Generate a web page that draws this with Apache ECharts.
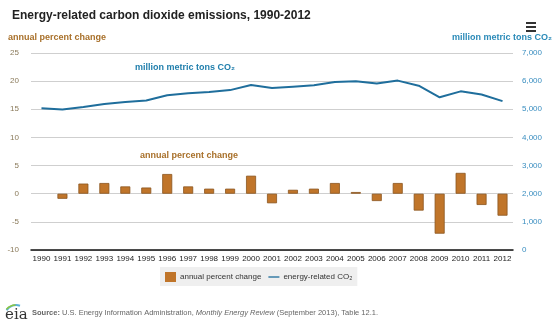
<!DOCTYPE html>
<html><head><meta charset="utf-8">
<script src="https://cdn.jsdelivr.net/npm/echarts@6/dist/echarts.min.js"></script>
<style>html,body{margin:0;padding:0;background:#fff}#c{width:558px;height:326px}</style>
</head><body><div id="c"></div>
<script>
var years = ['1990','1991','1992','1993','1994','1995','1996','1997','1998','1999','2000','2001','2002','2003','2004','2005','2006','2007','2008','2009','2010','2011','2012'];
var pctChange = [null,-0.9,1.8,1.9,1.3,1.1,3.5,1.3,0.9,0.9,3.2,-1.7,0.7,0.9,1.9,0.3,-1.3,1.9,-3.0,-7.1,3.7,-2.0,-3.9];
var co2 = [5039,4995,5083,5185,5258,5314,5502,5568,5615,5681,5860,5753,5803,5853,5970,5999,5920,6019,5838,5425,5637,5523,5290];
var leftTicks = [-10,25,5];
var rightTicks = [0,7000,1000];

var chart = echarts.init(document.getElementById('c'));
var F = 'Arial, "Liberation Sans", sans-serif';
chart.setOption({
  animation:false,
  textStyle:{fontFamily:F},
  title:{text:'Energy-related carbon dioxide emissions, 1990-2012',left:7,top:5,
    textStyle:{fontSize:12,fontWeight:'bold',color:'#222',fontFamily:F}},
  grid:{left:31,right:45,top:53,bottom:76},
  legend:{top:267,left:160,itemWidth:11,itemHeight:10,itemGap:7,
    backgroundColor:'#efefef',padding:[5,5,4,5],
    itemStyle:{borderWidth:0},
    textStyle:{fontSize:8,color:'#333',fontFamily:F,padding:[0,0,0,-1]},
    data:[{name:'annual percent change',icon:'rect',itemStyle:{borderWidth:0}},
          {name:'energy-related CO₂',icon:'path://M0,0L20,0L20,2.4L0,2.4Z'}]},
  xAxis:{type:'category',data:years,
    axisLine:{onZero:false,lineStyle:{color:'#111',width:1.5}},
    axisTick:{lineStyle:{color:'#111'},length:4},
    axisLabel:{fontSize:8,color:'#222',margin:5,interval:0}},
  yAxis:[
    {type:'value',min:leftTicks[0],max:leftTicks[1],interval:leftTicks[2],
     axisLine:{show:false},axisTick:{show:false},
     axisLabel:{fontSize:8,color:'#8a7a5a',margin:12},
     splitLine:{lineStyle:{color:'#cfcfcf'}}},
    {type:'value',min:rightTicks[0],max:rightTicks[1],interval:rightTicks[2],
     axisLine:{show:false},axisTick:{show:false},
     axisLabel:{fontSize:8,color:'#3a8ec0',margin:9,formatter:function(v){return v.toLocaleString('en-US');}},
     splitLine:{show:false}}
  ],
  series:[
    {name:'annual percent change',type:'bar',data:pctChange,yAxisIndex:0,barWidth:10,
     itemStyle:{color:'#c0752a',borderColor:'#8a5520',borderWidth:0.8}},
    {name:'energy-related CO₂',type:'line',data:co2,yAxisIndex:1,symbol:'none',
     lineStyle:{color:'#1f6e9c',width:2},itemStyle:{color:'#1f6e9c'}}
  ],
  graphic:[
    {type:'text',left:8,top:33,style:{text:'annual percent change',fill:'#a8702a',font:'bold 9px '+F}},
    {type:'text',right:6,top:33,style:{text:'million metric tons CO₂',fill:'#2a8ab8',font:'bold 9px '+F}},
    {type:'text',left:135,top:63,style:{text:'million metric tons CO₂',fill:'#1f7eac',font:'bold 9px '+F}},
    {type:'text',left:140,top:151,style:{text:'annual percent change',fill:'#a8702a',font:'bold 9px '+F}},
    {type:'group',right:22,top:22,children:[
      {type:'rect',shape:{x:0,y:0,width:10,height:2},style:{fill:'#333'}},
      {type:'rect',shape:{x:0,y:4,width:10,height:2},style:{fill:'#333'}},
      {type:'rect',shape:{x:0,y:8,width:10,height:2},style:{fill:'#333'}}
    ]},
    {type:'text',left:5,top:308,style:{text:'eia',fill:'#333',font:'15px "DejaVu Serif", serif'}},
    {type:'arc',shape:{cx:16,cy:316,r:11,startAngle:-2.6,endAngle:-1.2},style:{stroke:'#5ab0d8',lineWidth:2,fill:null}},
    {type:'arc',shape:{cx:16,cy:318,r:13,startAngle:-2.4,endAngle:-1.6},style:{stroke:'#8cc63f',lineWidth:1.5,fill:null}},
    {type:'text',left:32,top:309,style:{
      text:'{b|Source:} U.S. Energy Information Administration, {i|Monthly Energy Review} (September 2013), Table 12.1.',
      fill:'#666',font:'7.5px '+F,
      rich:{b:{fontWeight:'bold',fill:'#666',fontSize:7.5,fontFamily:F},i:{fontStyle:'italic',fill:'#666',fontSize:7.5,fontFamily:F}}}}
  ]
});
</script></body></html>
